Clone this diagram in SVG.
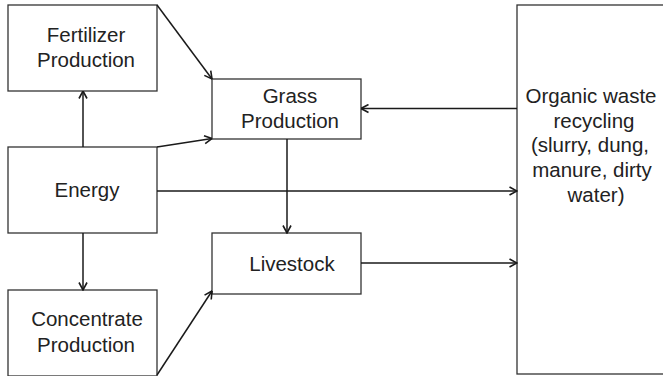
<svg xmlns="http://www.w3.org/2000/svg" width="663" height="376" viewBox="0 0 663 376">
<defs>
<marker id="arr" viewBox="0 0 10 10" refX="9.5" refY="5" markerWidth="10" markerHeight="10" markerUnits="userSpaceOnUse" orient="auto">
<path d="M2,1 L9.5,5 L2,9" fill="none" stroke="#1a1a1a" stroke-width="1.6"/>
</marker>
</defs>
<style>
.box{fill:#fff;stroke:#333;stroke-width:1.3}
.t{font-family:"Liberation Sans",Arial,sans-serif;font-size:20.5px;fill:#222;text-anchor:middle}
.c{fill:none;stroke:#1a1a1a;stroke-width:1.5;marker-end:url(#arr)}
</style>
<rect width="663" height="376" fill="#fff"/>
<g id="fertilizer"><rect class="box" x="8" y="5" width="149" height="86"/><text class="t" x="86" y="42">Fertilizer</text><text class="t" x="86" y="67">Production</text></g>
<g id="energy"><rect class="box" x="8" y="147" width="149" height="86"/><text class="t" x="87" y="197">Energy</text></g>
<g id="concentrate"><rect class="box" x="8" y="290" width="149" height="86"/><text class="t" x="87" y="326">Concentrate</text><text class="t" x="86" y="352">Production</text></g>
<g id="grass"><rect class="box" x="212" y="79" width="149" height="60"/><text class="t" x="290" y="103">Grass</text><text class="t" x="290" y="128">Production</text></g>
<g id="livestock"><rect class="box" x="212" y="233" width="149" height="61"/><text class="t" x="292" y="271">Livestock</text></g>
<g id="organic"><rect class="box" x="517" y="5" width="160" height="369"/>
<text class="t" x="591" y="103">Organic waste</text>
<text class="t" x="594" y="127.5">recycling</text>
<text class="t" x="590" y="152">(slurry, dung,</text>
<text class="t" x="592" y="177">manure, dirty</text>
<text class="t" x="596" y="201.5">water)</text>
</g>
<g id="connectors">
<line class="c" x1="157" y1="5" x2="212" y2="79"/>
<line class="c" x1="157" y1="147" x2="212" y2="138.5"/>
<line class="c" x1="83" y1="147" x2="83" y2="91"/>
<line class="c" x1="83" y1="233" x2="83" y2="290"/>
<line class="c" x1="157" y1="375" x2="212" y2="291"/>
<line class="c" x1="157" y1="191" x2="517" y2="191"/>
<line class="c" x1="287" y1="139" x2="287" y2="233"/>
<line class="c" x1="361" y1="263" x2="517" y2="263"/>
<line class="c" x1="517" y1="108.5" x2="361" y2="108.5"/>
</g>
</svg>
